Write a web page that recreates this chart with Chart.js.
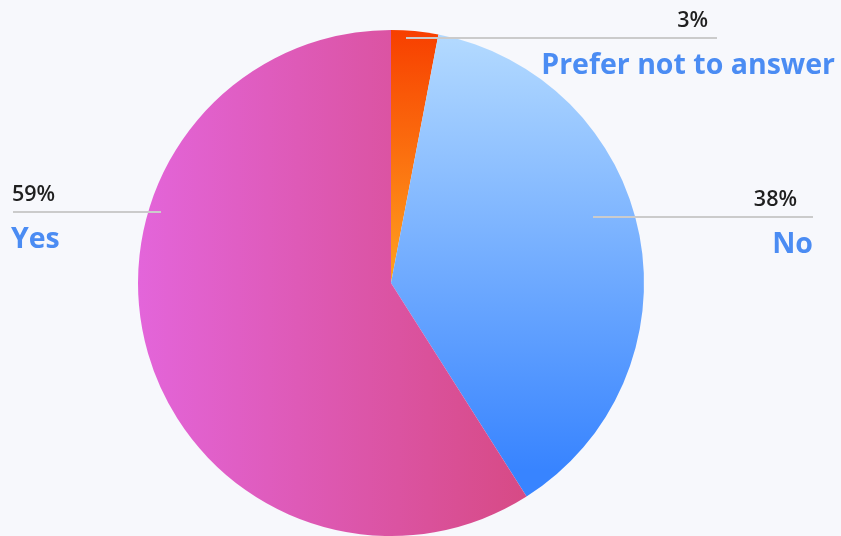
<!DOCTYPE html>
<html>
<head>
<meta charset="utf-8">
<script src="https://cdn.jsdelivr.net/npm/chart.js@4/dist/chart.umd.min.js"></script>
<style>
  html, body { margin: 0; padding: 0; background: #f7f8fc; }
  #wrap { width: 841px; height: 536px; }
</style>
</head>
<body>
<div id="wrap"><canvas id="pieChart"></canvas></div>
<script>
const categories = ["Prefer not to answer", "No", "Yes"];
const shares = [3, 38, 59];
const shareLabels = ["3%", "38%", "59%"];

// gradient stops for each slice: [direction, start colour, end colour]
const sliceFills = [
  ["v", "#f73f00", "#ffa21f"],
  ["v", "#b2d9ff", "#3884ff"],
  ["h", "#e365da", "#d6487e"],
];

function sliceGradient(ctx) {
  const chart = ctx.chart;
  const area = chart.chartArea;
  if (!area) return "#ccc";
  const [dir, c0, c1] = sliceFills[ctx.dataIndex];
  const c = chart.ctx;
  let g;
  if (dir === "h") {
    g = c.createLinearGradient(area.left, 0, area.left + 420, 0);
  } else if (ctx.dataIndex === 0) {
    g = c.createLinearGradient(0, area.top, 0, area.top + 253);
  } else {
    g = c.createLinearGradient(0, area.top + 10, 0, area.top + 440);
  }
  g.addColorStop(0, c0);
  g.addColorStop(1, c1);
  return g;
}

// leader line + value + category name for each slice
const calloutLayout = [
  { lineY: 38, inner: 15, outer: 717, valueX: 708, nameX: 835, align: "right" },
  { lineY: 217, inner: 202, outer: 813, valueX: 797, nameX: 813, align: "right" },
  { lineY: 212, inner: -230, outer: 13, valueX: 12, nameX: 11, align: "left" },
];

const calloutPlugin = {
  id: "callouts",
  afterDatasetsDraw(chart) {
    const c = chart.ctx;
    const meta = chart.getDatasetMeta(0);
    meta.data.forEach((arc, i) => {
      const lay = calloutLayout[i];
      c.save();
      c.strokeStyle = "#cbcbcb";
      c.lineWidth = 2;
      c.beginPath();
      c.moveTo(arc.x + lay.inner, lay.lineY);
      c.lineTo(lay.outer, lay.lineY);
      c.stroke();

      c.textAlign = lay.align;
      c.textBaseline = "alphabetic";
      c.font = "600 21.5px 'Open Sans', sans-serif";
      c.fillStyle = "#1f1f1f";
      c.fillText(shareLabels[i], lay.valueX, lay.lineY - 11);
      c.font = "bold 28.5px 'Open Sans', sans-serif";
      c.fillStyle = "#4b8cf3";
      c.fillText(categories[i], lay.nameX, lay.lineY + 36);
      c.restore();
    });
  },
};

const ctx = document.getElementById("pieChart").getContext("2d");
new Chart(ctx, {
  type: "pie",
  data: {
    labels: categories,
    datasets: [
      {
        data: shares,
        backgroundColor: sliceGradient,
        borderWidth: 0,
      },
    ],
  },
  options: {
    responsive: true,
    maintainAspectRatio: false,
    animation: false,
    layout: { padding: { left: 138, right: 197, top: 30, bottom: 0 } },
    plugins: {
      legend: { display: false },
      tooltip: { enabled: false },
    },
  },
  plugins: [calloutPlugin],
});
</script>
</body>
</html>
